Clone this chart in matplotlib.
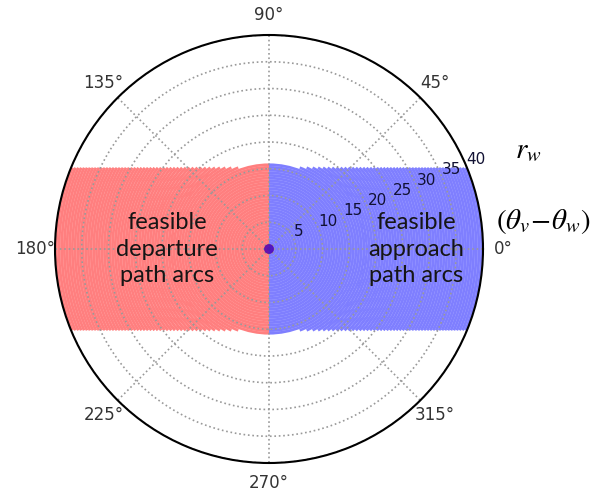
import numpy as np
import matplotlib.pyplot as plt

plt.rcParams['mathtext.fontset'] = 'stix'

# arc radius grid and feasibility limits
r_max = 40.0
r_step = 0.5
band_half = 15.2      # |y| limit of the straight band
core_radius = 15.9    # every heading feasible below this radius

r_ticks = [5, 10, 15, 20, 25, 30, 35, 40]
theta_ticks = [0, 45, 90, 135, 180, 225, 270, 315]

rings = np.arange(0, r_max, r_step)
r_mid = rings + r_step / 2
half_span = np.where(r_mid <= core_radius, np.pi / 2,
                     np.arcsin(np.clip(band_half / np.maximum(r_mid, 1e-9), 0, 1)))

fig = plt.figure(figsize=(5.92, 5.00), dpi=100)
ax = fig.add_axes([0.0929, 0.074, 0.723, 0.856], projection='polar')

# approach arcs on the right, departure arcs on the left
ax.bar(np.zeros_like(rings), r_step, width=2 * half_span, bottom=rings,
       color='blue', alpha=0.5, linewidth=0, align='center')
ax.bar(np.full_like(rings, np.pi), r_step, width=2 * half_span, bottom=rings,
       color='red', alpha=0.5, linewidth=0, align='center')
ax.scatter([0, 0], [0, 0], s=50, c=['red', 'blue'], alpha=0.6, linewidths=0, zorder=3)

ax.set_ylim(0, r_max)
ax.set_yticks(r_ticks)
ax.set_yticklabels([str(v) for v in r_ticks], fontsize=11, color='#111133')
ax.set_rlabel_position(22.5)
ax.set_xticks(np.deg2rad(theta_ticks))
ax.set_xticklabels(['%d°' % t for t in theta_ticks], fontsize=12, color='#333333')
ax.tick_params(axis='x', pad=4)
ax.grid(True, linestyle=':', color='#999999', linewidth=1.2)
ax.spines['polar'].set_linewidth(1.5)

ax.text(np.pi, 19, 'feasible\ndeparture\npath arcs', ha='center', va='center',
        fontsize=17, family='Lato', color='#151515', linespacing=1.3)
ax.text(0, 27.5, 'feasible\napproach\npath arcs', ha='center', va='center',
        fontsize=17, family='Lato', color='#151515', linespacing=1.3)

fig.text(0.892, 0.70, r'$r_w$', fontsize=21, ha='center', va='center')
fig.text(0.918, 0.556, r'$(\theta_v\!-\!\theta_w)$', fontsize=21, ha='center', va='center')

fig.savefig('out.png', dpi=100)
